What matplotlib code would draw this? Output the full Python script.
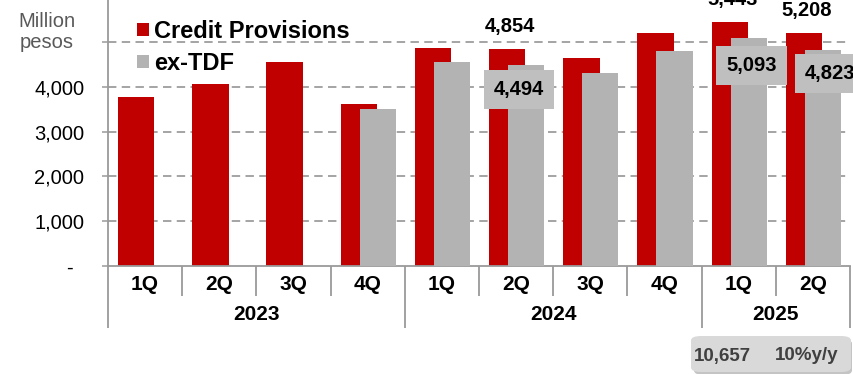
import numpy as np
import matplotlib
matplotlib.use("Agg")
import matplotlib.pyplot as plt
from matplotlib.patches import FancyBboxPatch
from matplotlib.transforms import blended_transform_factory

plt.rcParams['font.family'] = ['Liberation Sans', 'DejaVu Sans']

# Quarterly credit provisions (million pesos)
quarters = ["1Q", "2Q", "3Q", "4Q", "1Q", "2Q", "3Q", "4Q", "1Q", "2Q"]
years = ["2023", "2024", "2025"]
quarters_per_year = [4, 4, 2]
credit_provisions = [3780, 4060, 4560, 3610, 4870, 4854, 4640, 5200, 5443, 5208]
ex_tdf = [np.nan, np.nan, np.nan, 3500, 4560, 4494, 4315, 4805, 5093, 4823]

# Values printed above / inside the bars
red_labelled = [5, 8, 9]
gray_labelled = [5, 8, 9]
y_ticks = [0, 1000, 2000, 3000, 4000, 5000]
y_tick_labels = ["-  ", "1,000", "2,000", "3,000", "4,000", ""]

# Half-year summary
summary_total = "10,657"
summary_growth = "10%y/y"

RED = "#C00000"
GRAY = "#B3B3B3"
BOX_GRAY = "#BFBFBF"
AXIS_GRAY = "#9A9A9A"

W, H = 854, 374
fig = plt.figure(figsize=(W / 100, H / 100), dpi=100)
ax = fig.add_axes([108 / W, 1 - 266 / H, (850 - 108) / W, 266 / H])

x = np.arange(len(quarters))
bw = 0.49
red_bars = ax.bar(x - 0.12, credit_provisions, width=bw, color=RED, zorder=2,
                  label="Credit Provisions")
gray_bars = ax.bar(x + 0.135, ex_tdf, width=bw, color=GRAY, zorder=3,
                   label="ex-TDF")

ax.set_xlim(-0.5, len(quarters) - 0.5)
ax.set_ylim(0, 5938)

# dashed horizontal gridlines
for yv in y_ticks[1:]:
    ax.axhline(yv, color="#8C8C8C", lw=1.1, dashes=(5.5, 3.5), zorder=1)

ax.set_yticks(y_ticks)
ax.set_yticklabels(y_tick_labels, fontsize=14.5, color="#000000")
ax.tick_params(axis="y", direction="out", length=4, width=1.1, color=AXIS_GRAY, pad=13)
ax.set_xticks([])

for s in ["top", "right"]:
    ax.spines[s].set_visible(False)
for s in ["left", "bottom"]:
    ax.spines[s].set_color(AXIS_GRAY)
    ax.spines[s].set_linewidth(1.3)

# two-level category axis
tr = blended_transform_factory(ax.transData, ax.transAxes)
q_sep_depth = -30 / 266
y_sep_depth = -62 / 266
year_bounds = np.concatenate([[0], np.cumsum(quarters_per_year)])
for b in range(len(quarters) + 1):
    depth = y_sep_depth if b in year_bounds else q_sep_depth
    ax.plot([b - 0.5, b - 0.5], [0, depth], transform=tr, color=AXIS_GRAY,
            lw=1.3, clip_on=False, solid_capstyle="butt")
for i, q in enumerate(quarters):
    ax.text(i, -18 / 266, q, transform=tr, ha="center", va="center",
            fontsize=15, fontweight="bold", color="#000000")
for k, yr in enumerate(years):
    mid = (year_bounds[k] + year_bounds[k + 1] - 1) / 2
    ax.text(mid, -49 / 266, yr, transform=tr, ha="center", va="center",
            fontsize=15, fontweight="bold", color="#000000")

# value labels
for i in red_labelled:
    v = credit_provisions[i]
    ax.annotate(f"{v:,}", (x[i] - 0.12, v), xytext=(2, 16), textcoords="offset points",
                ha="center", va="center", fontsize=14.5, fontweight="bold",
                color="#000000", zorder=6)
gray_offsets = {5: (-5, -18), 8: (2, -20), 9: (5, -17)}
for i in gray_labelled:
    v = ex_tdf[i]
    ax.annotate(f"{int(v):,}", (x[i] + 0.135, v), xytext=gray_offsets[i],
                textcoords="offset points", ha="center", va="center",
                fontsize=14.5, fontweight="bold", color="#000000", zorder=6,
                bbox=dict(boxstyle="square,pad=0.5", fc=BOX_GRAY, ec="none"))

# axis unit label
fig.text(47 / W, 1 - 32 / H, "Million\npesos", ha="center", va="center",
         fontsize=14.5, color="#595959", linespacing=1.12)

# legend
ax.legend(handles=[red_bars, gray_bars], loc="upper left",
          bbox_to_anchor=(137 / W, 1 - 20 / H), bbox_transform=fig.transFigure,
          frameon=False, prop=dict(size=17, weight="bold"),
          handlelength=0.5, handleheight=0.5, handletextpad=0.22,
          labelspacing=0.38, borderpad=0, borderaxespad=0)

# half-year summary box with drop shadow
shadow = FancyBboxPatch((694 / W, 1 - 375 / H), 158 / W, 36 / H,
                        boxstyle="round,pad=0,rounding_size=0.012",
                        transform=fig.transFigure, fc="#9E9E9E", ec="none",
                        alpha=0.6, zorder=4)
box = FancyBboxPatch((691 / W, 1 - 372 / H), 160 / W, 36 / H,
                     boxstyle="round,pad=0,rounding_size=0.012",
                     transform=fig.transFigure, fc="#D9D9D9", ec="none", zorder=5)
fig.patches.extend([shadow, box])
fig.text(722 / W, 1 - 356 / H, summary_total, ha="center", va="center",
         fontsize=13.5, fontweight="bold", color="#404040", zorder=6)
fig.text(807 / W, 1 - 356 / H, summary_growth, ha="center", va="center",
         fontsize=13.5, fontweight="bold", color="#404040", zorder=6)

fig.savefig("out.png", dpi=100)
